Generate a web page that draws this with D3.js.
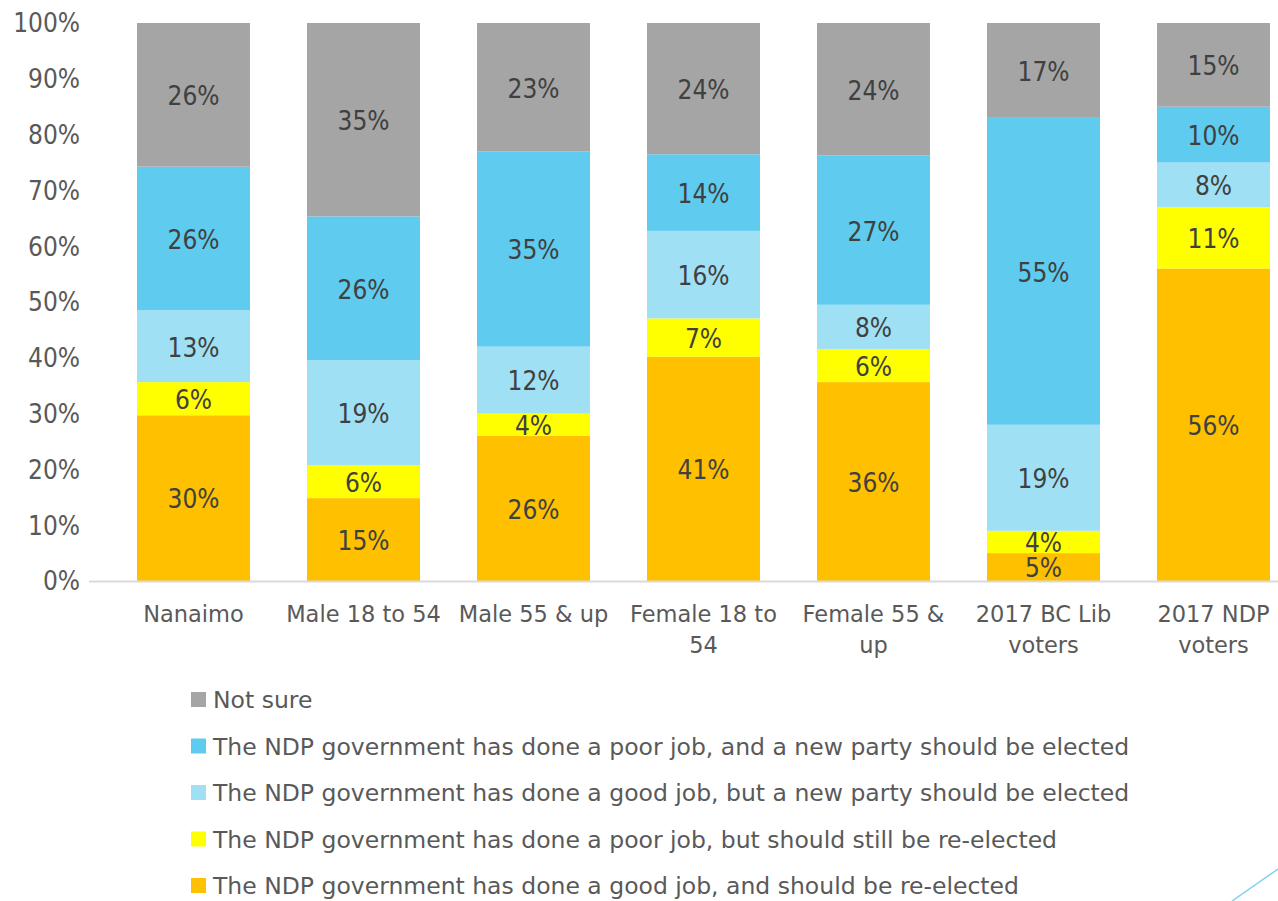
<!DOCTYPE html>
<html>
<head>
<meta charset="utf-8">
<script src="https://cdn.jsdelivr.net/npm/d3@7"></script>
<style>
  body { margin: 0; background: #fff; }
  svg text { font-family: "DejaVu Sans Condensed", "DejaVu Sans", sans-serif; }
  svg text.wide { font-family: "DejaVu Sans", sans-serif; }
</style>
</head>
<body>
<svg id="chart" width="1278" height="901"></svg>
<script>
var categories = [["Nanaimo"], ["Male 18 to 54"], ["Male 55 & up"], ["Female 18 to", "54"], ["Female 55 &", "up"], ["2017 BC Lib", "voters"], ["2017 NDP", "voters"]];
var seriesNames = [
  "The NDP government has done a good job, and should be re-elected",
  "The NDP government has done a poor job, but should still be re-elected",
  "The NDP government has done a good job, but a new party should be elected",
  "The NDP government has done a poor job, and a new party should be elected",
  "Not sure"
];
var seriesColors = ["#ffc000", "#ffff00", "#a0e0f4", "#5ecbef", "#a5a5a5"];
var goodReelect = [30, 15, 26, 41, 36, 5, 56];
var poorReelect = [6, 6, 4, 7, 6, 4, 11];
var goodNewParty = [13, 19, 12, 16, 8, 19, 8];
var poorNewParty = [26, 26, 35, 14, 27, 55, 10];
var notSure = [26, 35, 23, 24, 24, 17, 15];
var yTicks = [0, 0.1, 0.2, 0.3, 0.4, 0.5, 0.6, 0.7, 0.8, 0.9, 1];

(function() {
    var svg = d3.select("#chart");
    var allSeries = [goodReelect, poorReelect, goodNewParty, poorNewParty, notSure];

    var rows = categories.map((c, i) => {
        var r = {idx: i};
        allSeries.forEach((s, k) => { r["s" + k] = s[i]; });
        return r;
    });
    var keys = allSeries.map((s, k) => "s" + k);

    // shares don't always add to 100 (rounding), so normalise
    var stacked = d3.stack().keys(keys).offset(d3.stackOffsetExpand)(rows);

    var x = d3.scaleBand()
        .domain(d3.range(categories.length))
        .range([108.5, 1298.5])
        .paddingInner(57 / 170)
        .paddingOuter(57 / 340);

    var y = d3.scaleLinear().domain([0, 1]).range([581, 23]);

    // y axis labels
    svg.append("g").selectAll("text")
        .data(yTicks)
        .join("text")
        .attr("x", 80)
        .attr("y", d => y(d))
        .attr("dy", "0.36em")
        .attr("text-anchor", "end")
        .attr("font-size", 26)
        .attr("fill", "#595959")
        .text(d => d3.format(".0%")(d));

    // bars
    var layers = svg.append("g").selectAll("g")
        .data(stacked)
        .join("g")
        .attr("fill", (d, i) => seriesColors[i]);

    layers.selectAll("rect")
        .data(d => d)
        .join("rect")
        .attr("x", d => x(d.data.idx))
        .attr("width", x.bandwidth())
        .attr("y", d => y(d[1]))
        .attr("height", d => y(d[0]) - y(d[1]));

    // value labels
    var labels = svg.append("g");
    stacked.forEach((layer, k) => {
        labels.selectAll("text.l" + k)
            .data(layer)
            .join("text")
            .attr("class", "l" + k)
            .attr("x", d => x(d.data.idx) + x.bandwidth() / 2)
            .attr("y", d => y((d[0] + d[1]) / 2) + 1)
            .attr("dy", "0.36em")
            .attr("text-anchor", "middle")
            .attr("font-size", 26)
            .attr("fill", "#404040")
            .text((d, i) => allSeries[k][i] + "%");
    });

    // baseline
    svg.append("line")
        .attr("x1", 89).attr("x2", 1278)
        .attr("y1", y(0) + 0.5).attr("y2", y(0) + 0.5)
        .attr("stroke", "#d9d9d9")
        .attr("stroke-width", 2);

    // category labels
    var cat = svg.append("g").selectAll("text")
        .data(categories)
        .join("text")
        .attr("class", "wide")
        .attr("x", (d, i) => x(i) + x.bandwidth() / 2)
        .attr("y", 622)
        .attr("text-anchor", "middle")
        .attr("font-size", 22.5)
        .attr("fill", "#595959");
    cat.selectAll("tspan")
        .data(d => d)
        .join("tspan")
        .attr("x", function() { return d3.select(this.parentNode).attr("x"); })
        .attr("dy", (d, i) => i == 0 ? 0 : 31)
        .text(d => d);

    // legend (top to bottom: reverse order)
    var legendOrder = d3.range(seriesNames.length).reverse();
    var leg = svg.append("g").selectAll("g")
        .data(legendOrder)
        .join("g")
        .attr("transform", (d, i) => "translate(191," + (700 + i * 46.5) + ")");
    leg.append("rect")
        .attr("x", 0).attr("y", -8)
        .attr("width", 15).attr("height", 15)
        .attr("fill", d => seriesColors[d]);
    leg.append("text")
        .attr("class", "wide")
        .attr("x", 22)
        .attr("dy", "0.36em")
        .attr("font-size", 23.5)
        .attr("fill", "#595959")
        .text(d => seriesNames[d]);

    // decorative corner stroke
    svg.append("line")
        .attr("x1", 1232).attr("y1", 901)
        .attr("x2", 1278).attr("y2", 869)
        .attr("stroke", "#7dd3f0")
        .attr("stroke-width", 1.5);
})();
</script>
</body>
</html>
